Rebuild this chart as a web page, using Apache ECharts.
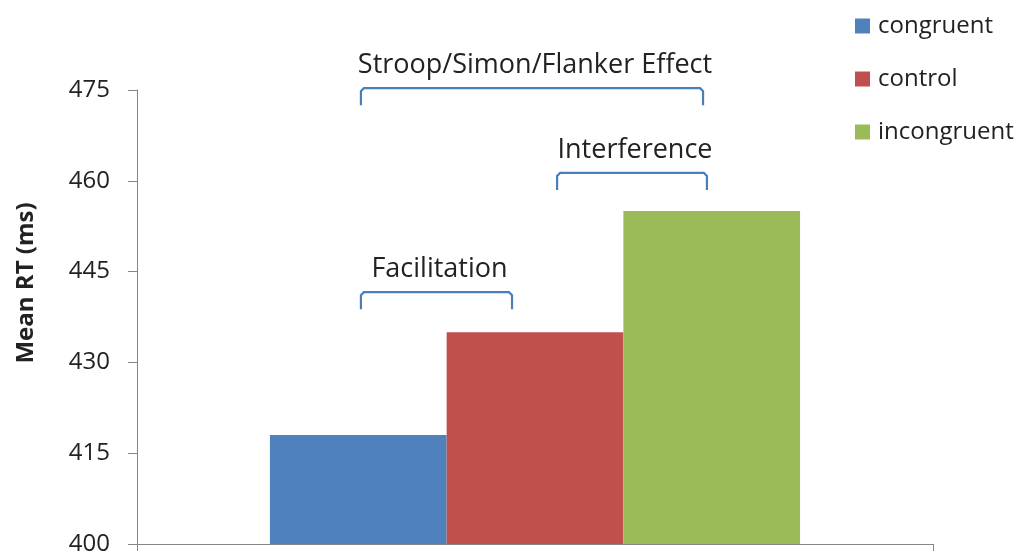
<!DOCTYPE html>
<html>
<head>
<meta charset="utf-8">
<script src="https://cdn.jsdelivr.net/npm/echarts@6/dist/echarts.min.js"></script>
<style>html,body{margin:0;padding:0;background:#fff}#c{width:1024px;height:551px}</style>
</head>
<body>
<div id="c"></div>
<script>
const categories = ['Conditions'];
const seriesNames = ['congruent', 'control', 'incongruent'];
const congruent = [418];
const control = [435];
const incongruent = [455];
const colors = ['#4F81BD', '#C0504D', '#9BBB59'];
const yTicks = { min: 400, max: 475, interval: 15 };
// annotations: label, bracket top value, left/right in bar-width units from category center
const annotLabels = ['Stroop/Simon/Flanker Effect', 'Interference', 'Facilitation'];
const annotTopValue = [475.3, 461.3, 441.6];
const annotLeft = [-0.985, 0.125, -0.985];
const annotRight = [0.951, 0.973, -0.130];

const FONT = '"Open Sans", sans-serif';
const chart = echarts.init(document.getElementById('c'));
const values = [congruent, control, incongruent];
const GAP = 0.334;
const option = {
  animation: false,
  grid: { left: 137, right: 91, top: 90, bottom: 7, containLabel: false, outerBoundsMode: 'none' },
  legend: {
    orient: 'vertical', left: 850, top: 9,
    itemWidth: 15, itemHeight: 15, itemGap: 29,
    icon: 'rect',
    textStyle: { fontFamily: FONT, fontSize: 24, color: '#222', padding: [0, 0, 0, 3] },
    data: seriesNames
  },
  xAxis: {
    type: 'category', data: categories,
    axisLine: { lineStyle: { color: '#868686', width: 1 } },
    axisTick: { show: true, alignWithLabel: false, length: 8, lineStyle: { color: '#868686' }, inside: false },
    axisLabel: { show: false }
  },
  yAxis: {
    type: 'value', min: yTicks.min, max: yTicks.max, interval: yTicks.interval,
    name: 'Mean RT (ms)', nameLocation: 'middle', nameRotate: 90, nameGap: 99,
    nameTextStyle: { fontFamily: FONT, fontSize: 24, fontWeight: 'bold', color: '#222', padding: [0, 0, 0, 68] },
    axisLine: { show: true, lineStyle: { color: '#868686' } },
    axisTick: { show: true, length: 9, lineStyle: { color: '#868686' } },
    splitLine: { show: false },
    axisLabel: { fontFamily: FONT, fontSize: 24, color: '#222', margin: 27 }
  },
  series: seriesNames.map((n, i) => ({
    name: n, type: 'bar', data: values[i],
    barGap: '0%', barCategoryGap: (GAP * 100) + '%',
    itemStyle: { color: colors[i] }
  }))
};
chart.setOption(option);

function drawAnnotations() {
  const cx = chart.convertToPixel({ xAxisIndex: 0 }, categories[0]);
  const grid = chart.getModel().getComponent('grid').coordinateSystem.getRect();
  const barW = grid.width * (1 - GAP) / 3;
  const els = [];
  annotLabels.forEach((lab, i) => {
    const xl = cx + annotLeft[i] * barW;
    const xr = cx + annotRight[i] * barW;
    const yt = chart.convertToPixel({ yAxisIndex: 0 }, annotTopValue[i]);
    const h = 17, r = 3;
    els.push({
      type: 'polyline',
      shape: { points: [[xl, yt + h], [xl, yt + r], [xl + r, yt], [xr - r, yt], [xr, yt + r], [xr, yt + h]] },
      style: { stroke: '#4A7EBB', lineWidth: 2.2, fill: null }
    });
    els.push({
      type: 'text',
      x: (xl + xr) / 2 + 3, y: yt - 23,
      style: { text: lab, fontFamily: FONT, fontSize: 27, fill: '#222', align: 'center', verticalAlign: 'middle' }
    });
  });
  chart.setOption({ graphic: els });
}
drawAnnotations();
</script>
</body>
</html>
